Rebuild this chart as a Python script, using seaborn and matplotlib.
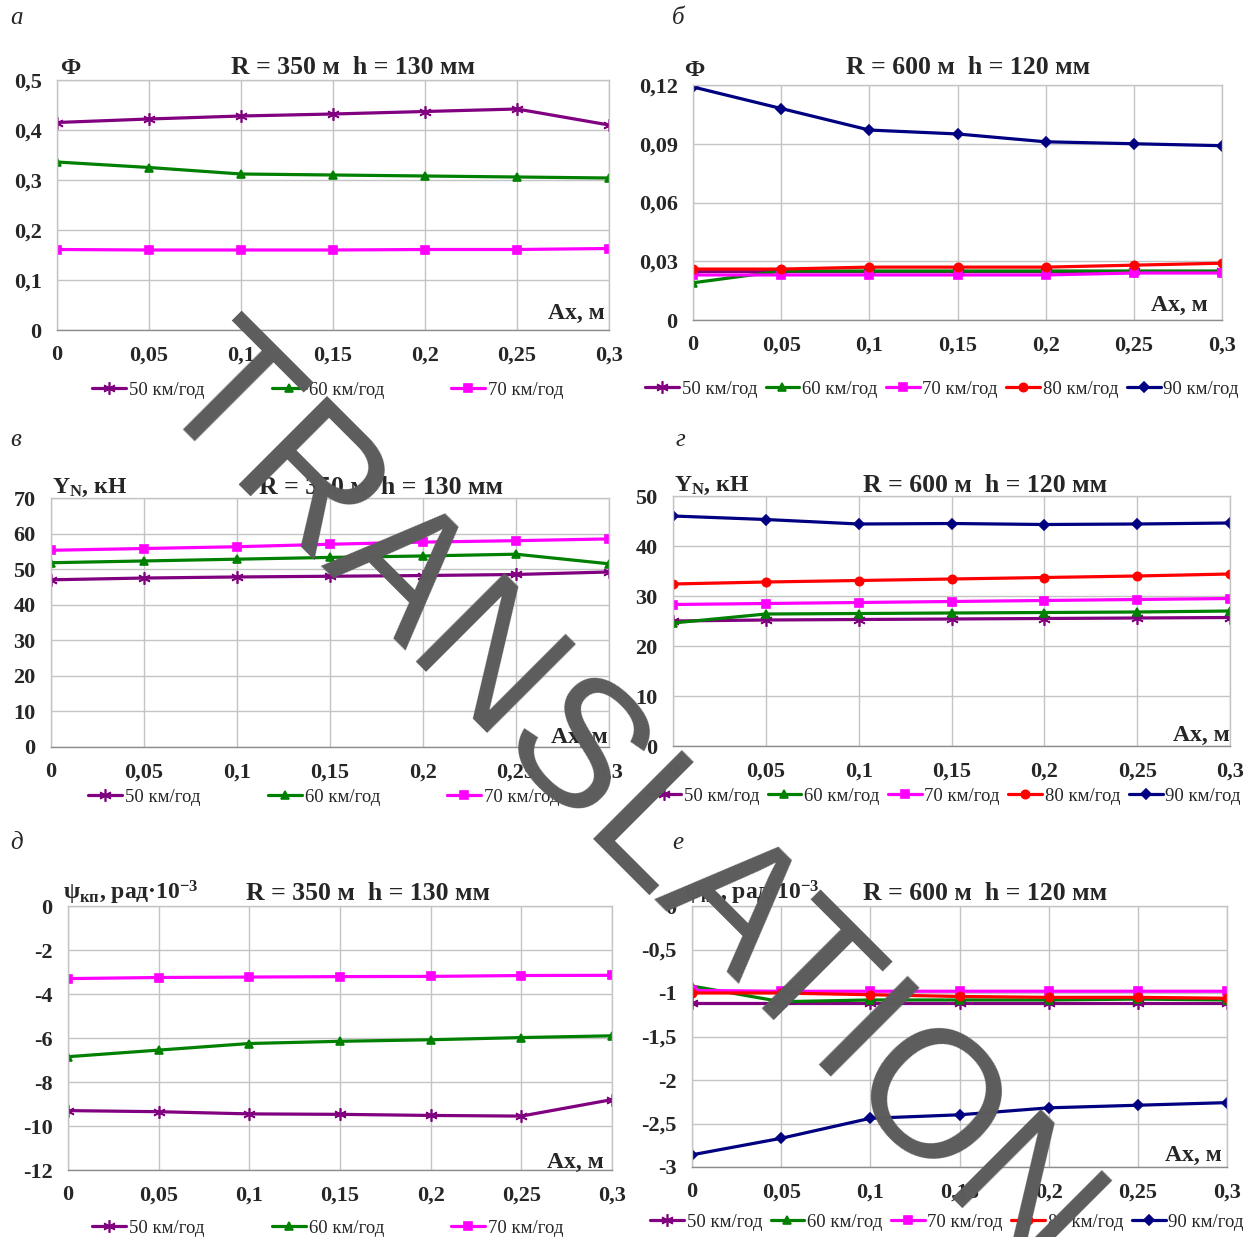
import matplotlib
matplotlib.use("Agg")
import matplotlib.pyplot as plt
import seaborn as sns

# x axis: Ax, m
ax_x = [0, 0.05, 0.1, 0.15, 0.2, 0.25, 0.3]
x_labels = ["0", "0,05", "0,1", "0,15", "0,2", "0,25", "0,3"]
speeds = ["50 км/год", "60 км/год", "70 км/год", "80 км/год", "90 км/год"]

# а: Ф, R = 350 m
phi_350_50 = [0.415, 0.422, 0.428, 0.432, 0.437, 0.442, 0.410]
phi_350_60 = [0.336, 0.325, 0.312, 0.310, 0.308, 0.306, 0.304]
phi_350_70 = [0.161, 0.160, 0.160, 0.160, 0.161, 0.161, 0.163]

# б: Ф, R = 600 m
phi_600_50 = [0.025, 0.025, 0.025, 0.025, 0.025, 0.025, 0.025]
phi_600_60 = [0.019, 0.025, 0.025, 0.025, 0.025, 0.025, 0.025]
phi_600_70 = [0.023, 0.023, 0.023, 0.023, 0.023, 0.024, 0.024]
phi_600_80 = [0.026, 0.026, 0.027, 0.027, 0.027, 0.028, 0.029]
phi_600_90 = [0.119, 0.108, 0.097, 0.095, 0.091, 0.090, 0.089]

# в: YN, kN, R = 350 m
yn_350_50 = [47.0, 47.5, 47.8, 48.0, 48.2, 48.5, 49.2]
yn_350_60 = [51.8, 52.3, 52.8, 53.3, 53.7, 54.2, 51.5]
yn_350_70 = [55.3, 55.8, 56.3, 57.0, 57.6, 58.0, 58.5]

# г: YN, kN, R = 600 m
yn_600_50 = [25.0, 25.2, 25.3, 25.4, 25.5, 25.6, 25.7]
yn_600_60 = [24.6, 26.4, 26.5, 26.6, 26.7, 26.8, 27.0]
yn_600_70 = [28.3, 28.5, 28.7, 28.9, 29.1, 29.3, 29.5]
yn_600_80 = [32.4, 32.8, 33.1, 33.4, 33.7, 34.0, 34.4]
yn_600_90 = [46.0, 45.3, 44.4, 44.5, 44.3, 44.4, 44.6]

# д: psi, rad*1e-3, R = 350 m
psi_350_50 = [-9.30, -9.35, -9.45, -9.47, -9.52, -9.55, -8.80]
psi_350_60 = [-6.85, -6.55, -6.25, -6.15, -6.08, -5.98, -5.90]
psi_350_70 = [-3.30, -3.25, -3.23, -3.21, -3.20, -3.16, -3.15]

# е: psi, rad*1e-3, R = 600 m
psi_600_50 = [-1.12, -1.12, -1.12, -1.12, -1.12, -1.12, -1.12]
psi_600_60 = [-0.92, -1.10, -1.08, -1.08, -1.08, -1.07, -1.08]
psi_600_70 = [-0.97, -0.98, -0.98, -0.98, -0.98, -0.98, -0.98]
psi_600_80 = [-1.00, -1.00, -1.02, -1.04, -1.05, -1.05, -1.06]
psi_600_90 = [-2.86, -2.67, -2.44, -2.40, -2.32, -2.29, -2.26]

W, H = 1250, 1237

colors = {"50 км/год": "#800080", "60 км/год": "#008000", "70 км/год": "#ff00ff",
          "80 км/год": "#ff0000", "90 км/год": "#000080"}
markers = {"50 км/год": (6, 2, 0), "60 км/год": "^", "70 км/год": "s",
           "80 км/год": "o", "90 км/год": "D"}
msizes = {"50 км/год": 9, "60 км/год": 6, "70 км/год": 6, "80 км/год": 6, "90 км/год": 5.5}

sns.set_style("white")
plt.rcParams["font.family"] = ["Liberation Serif", "DejaVu Serif"]
plt.rcParams["mathtext.fontset"] = "custom"
plt.rcParams["mathtext.rm"] = "Liberation Serif:bold"
plt.rcParams["mathtext.it"] = "Liberation Serif:bold"
plt.rcParams["mathtext.bf"] = "Liberation Serif:bold"

fig = plt.figure(figsize=(W / 100, H / 100), dpi=100)


def ftext(x, y, s, **kw):
    fig.text(x / W, 1 - y / H, s, **kw)


def lbl(v):
    return f"{v:g}".replace(".", ",")


def panel(box, series, yticks, letter, letter_xy, ylab, ylab_xy, title, title_xy,
          axlab_xy, leg_xy, leg_spacing):
    l, t, r, b = box
    ax = fig.add_axes([l / W, 1 - b / H, (r - l) / W, (b - t) / H])
    for name, vals in series:
        sns.lineplot(x=ax_x, y=vals, ax=ax, color=colors[name], marker=markers[name],
                     markersize=msizes[name], markeredgecolor=colors[name],
                     markerfacecolor=colors[name], markeredgewidth=1.2,
                     linewidth=2.3, label=name)
    ax.set_xlim(0, 0.3)
    ax.set_ylim(yticks[0], yticks[-1])
    ax.set_xticks(ax_x)
    ax.set_xticklabels(x_labels, fontsize=16, fontweight="bold")
    ax.set_yticks(yticks)
    ax.set_yticklabels([lbl(v) for v in yticks], fontsize=16, fontweight="bold")
    ax.grid(True, color="#c4c4c4", linewidth=1)
    ax.set_axisbelow(True)
    for sp in ax.spines.values():
        sp.set_color("#c4c4c4")
        sp.set_linewidth(1)
    ax.spines["bottom"].set_color("#8c8c8c")
    ax.tick_params(axis="x", length=5, color="#8c8c8c", pad=6)
    ax.tick_params(axis="y", length=0, pad=11)
    ax.set_xlabel("")
    ax.set_ylabel("")
    ax.legend(loc="center", bbox_to_anchor=(leg_xy[0] / W, 1 - leg_xy[1] / H),
              bbox_transform=fig.transFigure, ncol=len(series), frameon=False,
              columnspacing=leg_spacing, handlelength=1.8, handletextpad=0.15,
              borderaxespad=0, prop={"size": 13.5})
    ftext(*letter_xy, letter, fontsize=18, fontstyle="italic", ha="left", va="center")
    ftext(*ylab_xy, ylab, fontsize=17, fontweight="bold", ha="left", va="center")
    ftext(*title_xy, title, fontsize=18.5, fontweight="bold", ha="center", va="center")
    ftext(*axlab_xy, "Ax, м", fontsize=17, fontweight="bold", ha="right", va="center")
    return ax


s350 = "R = 350 м  h = 130 мм"
s600 = "R = 600 м  h = 120 мм"
yn_lab = r"Y$_{\mathrm{N}}$, кН"
psi_lab = r"ψ$_{\mathrm{кп}}$, рад·10$^{\mathrm{-3}}$"

panel((57, 80, 609, 330),
      [(speeds[0], phi_350_50), (speeds[1], phi_350_60), (speeds[2], phi_350_70)],
      [0, 0.1, 0.2, 0.3, 0.4, 0.5], "а", (10, 18), "Ф", (60, 68), s350, (353, 68),
      (605, 313), (328, 390), 3.6)

panel((693, 85, 1222, 320),
      [(speeds[0], phi_600_50), (speeds[1], phi_600_60), (speeds[2], phi_600_70),
       (speeds[3], phi_600_80), (speeds[4], phi_600_90)],
      [0, 0.03, 0.06, 0.09, 0.12], "б", (672, 18), "Ф", (684, 70), s600, (968, 68),
      (1208, 305), (942, 389), 0.45)

panel((51, 498, 609, 747),
      [(speeds[0], yn_350_50), (speeds[1], yn_350_60), (speeds[2], yn_350_70)],
      [0, 10, 20, 30, 40, 50, 60, 70], "в", (10, 440), yn_lab, (52, 488), s350, (381, 487),
      (608, 737), (324, 797), 3.6)

panel((673, 496, 1230, 746),
      [(speeds[0], yn_600_50), (speeds[1], yn_600_60), (speeds[2], yn_600_70),
       (speeds[3], yn_600_80), (speeds[4], yn_600_90)],
      [0, 10, 20, 30, 40, 50], "г", (676, 440), yn_lab, (674, 486), s600, (985, 485),
      (1230, 735), (944, 796), 0.45)

panel((68, 906, 612, 1170),
      [(speeds[0], psi_350_50), (speeds[1], psi_350_60), (speeds[2], psi_350_70)],
      [-12, -10, -8, -6, -4, -2, 0], "д", (10, 843), psi_lab, (63, 893), s350, (368, 893),
      (604, 1162), (328, 1228), 3.6)

panel((692, 906, 1227, 1167),
      [(speeds[0], psi_600_50), (speeds[1], psi_600_60), (speeds[2], psi_600_70),
       (speeds[3], psi_600_80), (speeds[4], psi_600_90)],
      [-3, -2.5, -2, -1.5, -1, -0.5, 0], "е", (672, 843), psi_lab, (684, 893), s600, (985, 893),
      (1222, 1155), (947, 1222), 0.45)

# watermark stamp over the figure (baseline anchored)
ftext(590, 840, "TRANSLATION", fontsize=130, family="Liberation Sans", color="#5c5c5c",
      rotation=-45, rotation_mode="anchor", ha="center", va="baseline", zorder=10)

fig.savefig("out.png", dpi=100)
